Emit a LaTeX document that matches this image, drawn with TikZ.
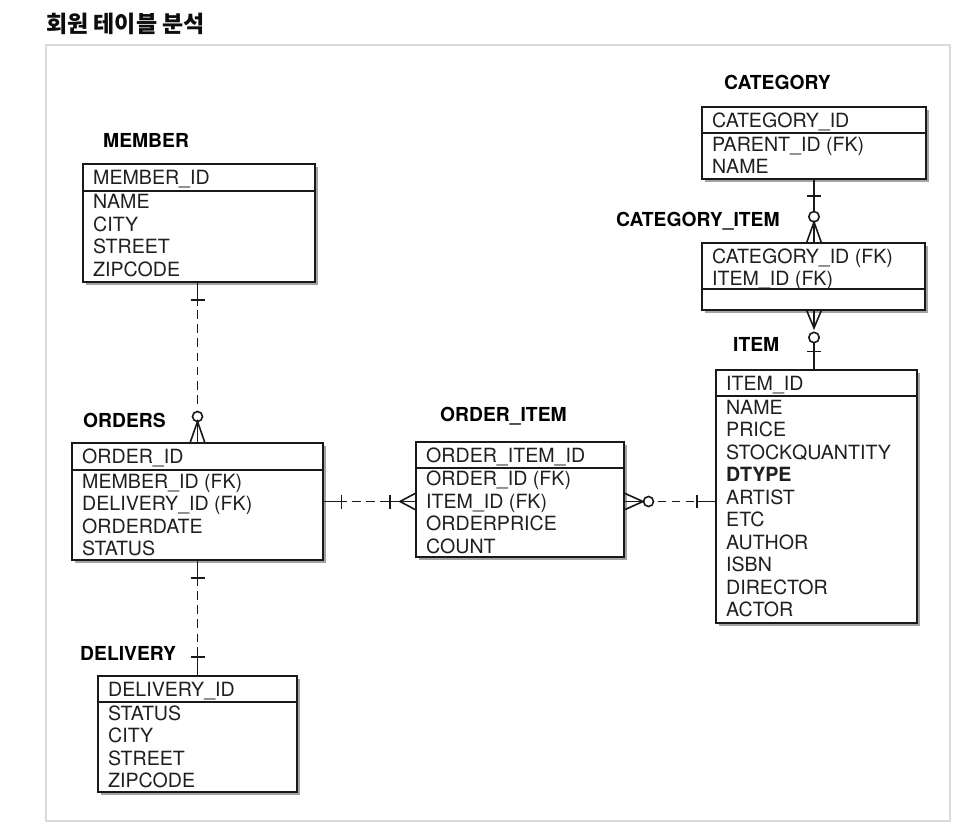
\documentclass[tikz,border=0pt]{standalone}
\usepackage{fontspec}
\setmainfont{TeX Gyre Heros}
\newfontfamily\cjk{Noto Sans CJK KR}
\usetikzlibrary{calc,shadows}
\tikzset{
  tbl/.style={draw=black!90, line width=2pt, fill=white, inner sep=0pt, outer sep=0pt, anchor=north west,
    drop shadow={shadow xshift=2.5pt, shadow yshift=-3pt, opacity=0.45, fill=black!80}},
  sepline/.style={draw=black!90, line width=2pt},
  lbl/.style={anchor=base west, inner sep=0pt, font=\fontsize{19.3}{22}\selectfont\bfseries, text=black},
  rowtxt/.style={anchor=base west, inner sep=0pt, font=\fontsize{19.6}{22}\selectfont, text=black!88},
  conn/.style={line width=1.6pt, draw=black!90},
  dsh/.style={conn, dash pattern=on 8.5pt off 5.7pt},
}
\newcommand\ertbl[8]{%
  \node[tbl, minimum width=#4pt, minimum height=#5pt] (#1) at (#2,#3) {};
  \draw[sepline] ($(#1.north west)+(0,#6)$) -- ($(#1.north east)+(0,#6)$);
  \foreach \t [count=\i] in {#7} \node[rowtxt] (#1-h\i) at ($(#1.north west)+(10,20.5+22.45*\i-22.45)$) {\t};
  \foreach \t [count=\i] in {#8} \node[rowtxt] (#1-a\i) at ($(#1.north west)+(10,#6+18.4+22.45*\i-22.45)$) {\t};
}
\begin{document}
\begin{tikzpicture}[x=1pt,y=-1pt]
\useasboundingbox (0,0) rectangle (972,836);
\fill[white] (0,0) rectangle (972,836);
% title and frame
\node[anchor=base west, inner sep=0pt, font=\cjk\bfseries\fontsize{23}{26}\selectfont, text=black!95] (title) at (46,32) {회원 테이블 분석};
\draw[draw=black!14, line width=2pt] (46,45) rectangle (950,821);

% tables
\ertbl{member}{83}{164}{232}{118}{26.5}{MEMBER\_ID}{NAME,CITY,STREET,ZIPCODE}
\ertbl{orders}{72}{443}{251}{117}{27}{ORDER\_ID}{MEMBER\_ID (FK),DELIVERY\_ID (FK),ORDERDATE,STATUS}
\ertbl{delivery}{98}{676}{199}{116}{26}{DELIVERY\_ID}{STATUS,CITY,STREET,ZIPCODE}
\ertbl{oitem}{416}{442}{208}{115}{25.5}{ORDER\_ITEM\_ID}{ORDER\_ID (FK),ITEM\_ID (FK),ORDERPRICE,COUNT}
\ertbl{category}{702}{107}{224}{72}{26}{CATEGORY\_ID}{PARENT\_ID (FK),NAME}
\ertbl{item}{716}{370}{201}{253}{26}{ITEM\_ID}{NAME,PRICE,STOCKQUANTITY,{\bfseries DTYPE},ARTIST,ETC,AUTHOR,ISBN,DIRECTOR,ACTOR}
% category_item (two key rows, empty attribute section)
\node[tbl, minimum width=223pt, minimum height=67pt] (catitem) at (702,243) {};
\draw[sepline] ($(catitem.north west)+(0,46)$) -- ($(catitem.north east)+(0,46)$);
\node[rowtxt] (catitem-h1) at ($(catitem.north west)+(10,20)$) {CATEGORY\_ID (FK)};
\node[rowtxt] (catitem-h2) at ($(catitem.north west)+(10,42.5)$) {ITEM\_ID (FK)};

% labels
\node[lbl] (lmember) at (103,147) {MEMBER};
\node[lbl] (lorders) at (83,427) {ORDERS};
\node[lbl] (ldelivery) at (80,660) {DELIVERY};
\node[lbl] (loitem) at (440,421) {ORDER\_ITEM};
\node[lbl] (lcategory) at (724,89) {CATEGORY};
\node[lbl] (lcatitem) at (616,226.5) {CATEGORY\_ITEM};
\node[lbl] (litem) at (733,351.5) {ITEM};

% MEMBER -- ORDERS
\coordinate (a0) at (orders.north |- member.south);
\coordinate (a1) at (orders.north);
\draw[conn] (a0) -- ($(a0)+(0,24)$);
\draw[conn] ($(a0)+(-7,18)$) -- ($(a0)+(7,18)$);
\draw[dsh] ($(a0)+(0,28)$) -- ($(a1)+(0,-36)$);
\draw[conn] ($(a1)+(0,-26.5)$) circle (5);
\draw[conn] ($(a1)+(0,-21.5)$) -- (a1);
\draw[conn] ($(a1)+(-7.5,0)$) -- ($(a1)+(0,-21.5)$) -- ($(a1)+(7.5,0)$);

% ORDERS -- DELIVERY
\coordinate (b0) at (orders.south);
\coordinate (b1) at (orders.south |- delivery.north);
\draw[conn] (b0) -- ($(b0)+(0,26)$);
\draw[conn] ($(b0)+(-7,18)$) -- ($(b0)+(7,18)$);
\draw[dsh] ($(b0)+(0,31)$) -- ($(b1)+(0,-32)$);
\draw[conn] ($(b1)+(0,-29)$) -- (b1);
\draw[conn] ($(b1)+(-7,-19)$) -- ($(b1)+(7,-19)$);

% ORDERS -- ORDER_ITEM
\coordinate (c0) at (orders.east);
\coordinate (c1) at (oitem.west |- orders.east);
\draw[conn] (c0) -- ($(c0)+(24,0)$);
\draw[conn] ($(c0)+(18.5,-7)$) -- ($(c0)+(18.5,7)$);
\draw[dsh] ($(c0)+(29,0)$) -- ($(c1)+(-31,0)$);
\draw[conn] ($(c1)+(-32,0)$) -- (c1);
\draw[conn] ($(c1)+(-26,-7)$) -- ($(c1)+(-26,7)$);
\draw[conn] ($(c1)+(0,-8.5)$) -- ($(c1)+(-16,0)$) -- ($(c1)+(0,8.5)$);

% ORDER_ITEM -- ITEM
\coordinate (d0) at (oitem.east |- orders.east);
\coordinate (d1) at (item.west |- orders.east);
\draw[conn] (d0) -- ($(d0)+(19,0)$);
\draw[conn] ($(d0)+(0,-8.5)$) -- ($(d0)+(19,0)$) -- ($(d0)+(0,8.5)$);
\draw[conn] ($(d0)+(24.5,0)$) circle (5);
\draw[dsh] ($(d0)+(33.5,0)$) -- ($(d1)+(-22,0)$);
\draw[conn] ($(d1)+(-19,0)$) -- (d1);
\draw[conn] ($(d1)+(-19,-6.5)$) -- ($(d1)+(-19,6.5)$);

% CATEGORY -- CATEGORY_ITEM
\coordinate (e0) at (category.south);
\coordinate (e1) at (category.south |- catitem.north);
\draw[conn] (e0) -- ($(e1)+(0,-31.5)$);
\draw[conn] ($(e0)+(-7,17)$) -- ($(e0)+(7,17)$);
\draw[conn] ($(e1)+(0,-26.3)$) circle (5.2);
\draw[conn] ($(e1)+(0,-21)$) -- (e1);
\draw[conn] ($(e1)+(-7.5,0)$) -- ($(e1)+(0,-21)$) -- ($(e1)+(7.5,0)$);

% CATEGORY_ITEM -- ITEM
\coordinate (f0) at (catitem.south -| category.south);
\coordinate (f1) at (category.south |- item.north);
\draw[conn] (f0) -- ($(f0)+(0,18)$);
\draw[conn] ($(f0)+(-7.5,0)$) -- ($(f0)+(0,18)$) -- ($(f0)+(7.5,0)$);
\draw[conn] ($(f0)+(0,27.5)$) circle (5.2);
\draw[conn] ($(f0)+(0,32.7)$) -- (f1);
\draw[conn] ($(f1)+(-7,-18.5)$) -- ($(f1)+(7,-18.5)$);
\end{tikzpicture}
\end{document}
